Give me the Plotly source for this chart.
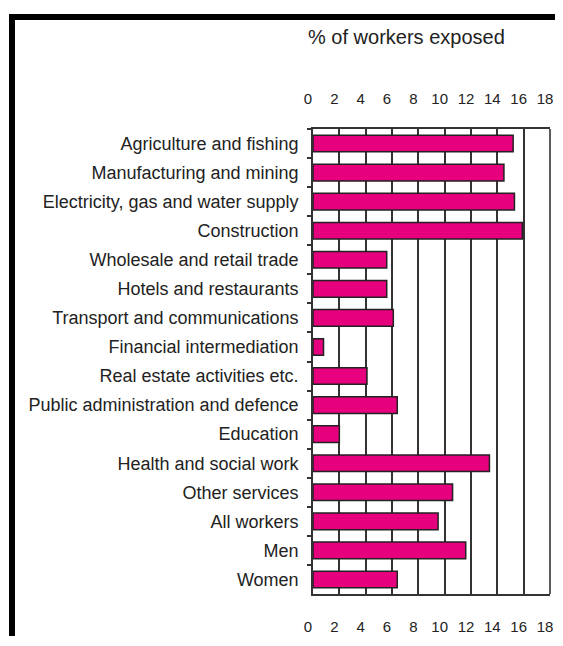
import plotly.graph_objects as go

categories = [
    "Agriculture and fishing",
    "Manufacturing and mining",
    "Electricity, gas and water supply",
    "Construction",
    "Wholesale and retail trade",
    "Hotels and restaurants",
    "Transport and communications",
    "Financial intermediation",
    "Real estate activities etc.",
    "Public administration and defence",
    "Education",
    "Health and social work",
    "Other services",
    "All workers",
    "Men",
    "Women",
]
values = [15.2, 14.5, 15.3, 15.9, 5.6, 5.6, 6.1, 0.8, 4.1, 6.4, 2.0, 13.4, 10.6, 9.5, 11.6, 6.4]
tick_vals = [0, 2, 4, 6, 8, 10, 12, 14, 16, 18]
tick_text = ["0", "2", "4", "6", "8", "10", "12", "14", "16", "18"]

# page body has an 8px margin, so the figure is sized to fit the window
W, H = 547, 628
ML, MR, MT, MB = 305, 5, 121, 42
PW, PH = W - ML - MR, H - MT - MB

def px_x(p):
    return (p - ML) / PW

def px_y(p):
    return (H - MB - p) / PH

FONT = "Liberation Sans, Arial, Helvetica, sans-serif"

fig = go.Figure()
fig.add_trace(go.Bar(
    x=values, y=categories, orientation="h",
    marker=dict(color="#E6007E", line=dict(color="#222222", width=1.5)),
    width=0.57, showlegend=False, xaxis="x", yaxis="y",
))
# empty trace to activate the top axis
fig.add_trace(go.Bar(x=[None], y=[categories[0]], orientation="h",
                     xaxis="x2", yaxis="y", showlegend=False, hoverinfo="skip"))

axis_common = dict(
    range=[0, 18], tickvals=tick_vals, ticktext=tick_text,
    tickfont=dict(family=FONT, size=15, color="#222222"),
    ticks="outside", ticklen=18, tickcolor="rgba(0,0,0,0)",
    ticklabelshift=-5, ticklabeloverflow="allow",
    fixedrange=True, automargin=False,
)

fig.update_layout(
    width=W, height=H,
    margin=dict(l=ML, r=MR, t=MT, b=MB, pad=0, autoexpand=False),
    paper_bgcolor="white", plot_bgcolor="white",
    xaxis=dict(**axis_common, side="bottom",
               showgrid=True, gridcolor="#333333", gridwidth=1.6,
               showline=True, linecolor="#333333", linewidth=1.6, mirror=True,
               zeroline=False),
    xaxis2=dict(**axis_common, side="top", overlaying="x", matches="x",
                showgrid=False, showline=False, zeroline=False),
    yaxis=dict(autorange="reversed", type="category",
               tickson="boundaries", ticks="outside", ticklen=4,
               tickcolor="#333333", tickwidth=1.5,
               tickfont=dict(family=FONT, size=18, color="#222222"),
               showline=True, linecolor="#333333", linewidth=1.6,
               showgrid=False, fixedrange=True, ticklabelstandoff=9,
               automargin=False),
    annotations=[dict(
        text="% of workers exposed", xref="paper", yref="paper",
        x=px_x(398), y=px_y(29), showarrow=False,
        font=dict(family=FONT, size=20, color="#222222"),
        xanchor="center", yanchor="middle",
    )],
    shapes=[
        dict(type="line", xref="paper", yref="paper",
             x0=1, x1=1, y0=0, y1=1,
             line=dict(color="#333333", width=1.6), layer="above"),
        dict(type="rect", xref="paper", yref="paper",
             x0=px_x(1), x1=px_x(7), y0=px_y(6), y1=px_y(H + 5),
             fillcolor="black", line=dict(width=0), layer="above"),
        dict(type="rect", xref="paper", yref="paper",
             x0=px_x(1), x1=px_x(W + 5), y0=px_y(6), y1=px_y(12),
             fillcolor="black", line=dict(width=0), layer="above"),
    ],
)

fig.write_html("out.html")
